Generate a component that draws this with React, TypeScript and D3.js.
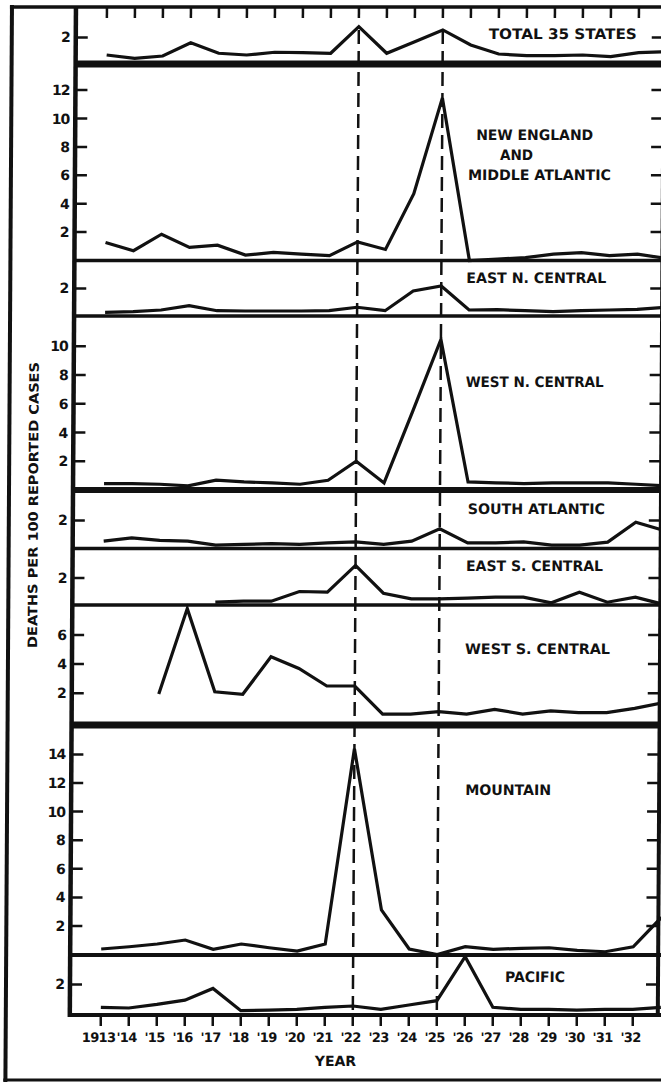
import * as d3 from 'd3'

// years on the x axis (1933 sits at the cropped right edge)
const YEARS = [1913, 1914, 1915, 1916, 1917, 1918, 1919, 1920, 1921, 1922, 1923,
  1924, 1925, 1926, 1927, 1928, 1929, 1930, 1931, 1932, 1933]
const YEAR_LABELS = ['1913', "'14", "'15", "'16", "'17", "'18", "'19", "'20", "'21", "'22",
  "'23", "'24", "'25", "'26", "'27", "'28", "'29", "'30", "'31", "'32"]
const EPIDEMIC_YEARS = [1922, 1925]

// deaths per 100 reported cases
const TOTAL_35 = [0.77, 0.54, 0.7, 1.63, 0.89, 0.77, 0.96, 0.93, 0.89, 2.75, 0.89, 1.7, 2.52, 1.47, 0.84, 0.72, 0.72, 0.77, 0.65, 0.93, 1.0]
const NEW_ENGLAND_MID_ATL = [1.27, 0.69, 1.85, 0.92, 1.08, 0.38, 0.57, 0.45, 0.34, 1.31, 0.78, 4.7, 11.45, 0.0, 0.1, 0.2, 0.45, 0.55, 0.35, 0.45, 0.15]
const EAST_N_CENTRAL = [0.33, 0.37, 0.49, 0.79, 0.44, 0.42, 0.42, 0.42, 0.44, 0.68, 0.44, 1.82, 2.17, 0.49, 0.51, 0.44, 0.37, 0.44, 0.49, 0.54, 0.68]
const WEST_N_CENTRAL = [0.45, 0.45, 0.4, 0.29, 0.68, 0.56, 0.5, 0.4, 0.68, 2.0, 0.49, 5.43, 10.47, 0.56, 0.5, 0.45, 0.5, 0.5, 0.5, 0.4, 0.3]
const SOUTH_ATLANTIC = [0.55, 0.78, 0.6, 0.55, 0.27, 0.32, 0.38, 0.32, 0.43, 0.5, 0.32, 0.55, 1.41, 0.43, 0.43, 0.5, 0.27, 0.27, 0.48, 1.87, 1.3]
const EAST_S_CENTRAL = [null, null, null, null, 0.3, 0.37, 0.37, 1.05, 1.0, 2.87, 0.93, 0.54, 0.54, 0.58, 0.65, 0.65, 0.26, 1.0, 0.3, 0.65, 0.15]
const WEST_S_CENTRAL = [null, null, 1.95, 7.8, 2.1, 1.93, 4.5, 3.7, 2.5, 2.5, 0.58, 0.58, 0.74, 0.58, 0.9, 0.58, 0.8, 0.68, 0.68, 0.97, 1.35]
const MOUNTAIN = [0.39, 0.55, 0.74, 1.02, 0.37, 0.74, 0.48, 0.25, 0.74, 14.4, 3.12, 0.39, 0.0, 0.55, 0.37, 0.44, 0.48, 0.3, 0.2, 0.55, 2.6]
const PACIFIC = [0.4, 0.35, 0.6, 0.9, 1.72, 0.16, 0.2, 0.25, 0.4, 0.49, 0.25, 0.56, 0.86, 3.94, 0.4, 0.25, 0.25, 0.2, 0.25, 0.25, 0.4]

const TICKS_SMALL = [2]
const TICKS_NE = [2, 4, 6, 8, 10, 12]
const TICKS_WNC = [2, 4, 6, 8, 10]
const TICKS_WSC = [2, 4, 6]
const TICKS_MTN = [2, 4, 6, 8, 10, 12, 14]

const NAMES = [
  ['TOTAL 35 STATES'],
  ['NEW ENGLAND', 'AND', 'MIDDLE ATLANTIC'],
  ['EAST N. CENTRAL'],
  ['WEST N. CENTRAL'],
  ['SOUTH ATLANTIC'],
  ['EAST S. CENTRAL'],
  ['WEST S. CENTRAL'],
  ['MOUNTAIN'],
  ['PACIFIC'],
]

// layout (pixels)
const W = 661
const H = 1082
const AXIS_LEFT = 76
const AXIS_RIGHT = 664
const FRAME_RIGHT = 690
const TOP = 7
const BOTTOM = 1015
const SKEW = -0.35 // the scan leans a little

// zero line, pixels per unit, divider below, label boxes [x, centerY, width]
const PANELS = [
  { series: TOTAL_35, ticks: TICKS_SMALL, zero: 66, unit: 14.3, rule: [64, 7], labels: [[489, 33.5, 148]] },
  { series: NEW_ENGLAND_MID_ATL, ticks: TICKS_NE, zero: 260.5, unit: 14.2, rule: [260.5, 3.5], labels: [[477, 135, 117], [501, 155, 33], [469, 175, 143]] },
  { series: EAST_N_CENTRAL, ticks: TICKS_SMALL, zero: 317, unit: 14.3, rule: [316, 3.5], labels: [[468, 278, 140]] },
  { series: WEST_N_CENTRAL, ticks: TICKS_WNC, zero: 490, unit: 14.375, rule: [490, 6], labels: [[468, 382, 138]] },
  { series: SOUTH_ATLANTIC, ticks: TICKS_SMALL, zero: 549, unit: 14.3, rule: [548.5, 3.5], labels: [[471, 509, 137]] },
  { series: EAST_S_CENTRAL, ticks: TICKS_SMALL, zero: 606.5, unit: 14.3, rule: [605, 3.5], labels: [[469.5, 566, 137]] },
  { series: WEST_S_CENTRAL, ticks: TICKS_WSC, zero: 722.5, unit: 14.6, rule: [725, 7], labels: [[469, 649, 145]] },
  { series: MOUNTAIN, ticks: TICKS_MTN, zero: 954.6, unit: 14.3, rule: [955, 4], labels: [[470, 790, 86]] },
  { series: PACIFIC, ticks: TICKS_SMALL, zero: 1013, unit: 14.3, rule: [BOTTOM, 4], labels: [[511, 977, 60]] },
]

const FONT = "'DejaVu Sans', 'Liberation Sans', Arial, sans-serif"

export default function App() {
  const x = d3.scaleLinear().domain([1913, 1932]).range([107, 639])

  return (
    <svg
      width={W}
      height={H}
      style={{ position: 'absolute', left: 0, top: 0 }}
      fontFamily={FONT}
      fontWeight="bold"
    >
      <rect width={W} height={H} fill="#fff" />
      <g transform={`skewX(${SKEW})`} stroke="#111" fill="none">
        {/* outer frame */}
        <line x1={12} x2={12} y1={5} y2={1082} strokeWidth={4} />
        <line x1={10} x2={FRAME_RIGHT} y1={TOP} y2={TOP} strokeWidth={3.5} />
        <line x1={10} x2={FRAME_RIGHT} y1={1080} y2={1080} strokeWidth={3} />

        {/* plot left axis */}
        <line x1={AXIS_LEFT} x2={AXIS_LEFT} y1={TOP} y2={BOTTOM + 2} strokeWidth={4.5} />
        <line x1={AXIS_RIGHT} x2={AXIS_RIGHT} y1={TOP} y2={BOTTOM + 2} strokeWidth={4} />

        {/* year ticks top and bottom */}
        {YEAR_LABELS.map((lab, i) => (
          <g key={lab}>
            <line x1={x(YEARS[i])} x2={x(YEARS[i])} y1={TOP} y2={TOP + 11} strokeWidth={2.5} />
            <line x1={x(YEARS[i])} x2={x(YEARS[i])} y1={BOTTOM} y2={BOTTOM + 11} strokeWidth={2.5} />
            <text
              x={x(YEARS[i]) - 2}
              y={1042}
              fill="#111"
              stroke="none"
              fontSize={13}
              textAnchor="middle"
              letterSpacing={-0.6}
            >
              {lab}
            </text>
          </g>
        ))}

        {/* panels */}
        {PANELS.map((p, i) => {
          const y = d3.scaleLinear().domain([0, 1]).range([p.zero, p.zero - p.unit])
          const line = d3.line<number | null>()
            .defined(v => v != null)
            .x((_, j) => x(YEARS[j]))
            .y(v => y(v as number))
          return (
            <g key={i}>
              <line x1={AXIS_LEFT} x2={FRAME_RIGHT} y1={p.rule[0]} y2={p.rule[0]} strokeWidth={p.rule[1]} />
              <path d={line(p.series) || ''} strokeWidth={3.2} strokeLinejoin="miter" />
              {p.ticks.map(t => (
                <g key={t}>
                  <line x1={AXIS_LEFT} x2={AXIS_LEFT + 12} y1={y(t)} y2={y(t)} strokeWidth={2.5} />
                  <line x1={AXIS_RIGHT - 12} x2={AXIS_RIGHT} y1={y(t)} y2={y(t)} strokeWidth={2.5} />
                  <text
                    x={AXIS_LEFT - 6}
                    y={y(t)}
                    dy="0.36em"
                    textAnchor="end"
                    fontSize={14}
                    fill="#111"
                    stroke="none"
                    letterSpacing={-1}
                  >
                    {t}
                  </text>
                </g>
              ))}
              {NAMES[i].map((name, k) => {
                const [lx, ly, lw] = p.labels[k]
                return (
                  <text
                    key={name}
                    x={lx}
                    y={ly + 5.5}
                    fontSize={14.5}
                    fill="#111"
                    stroke="none"
                    textLength={lw}
                    lengthAdjust="spacingAndGlyphs"
                  >
                    {name}
                  </text>
                )
              })}
            </g>
          )
        })}

        {/* epidemic years */}
        {EPIDEMIC_YEARS.map(yr => (
          <line
            key={yr}
            x1={x(yr)}
            x2={x(yr)}
            y1={30}
            y2={BOTTOM}
            strokeWidth={2.5}
            strokeDasharray="14 7"
          />
        ))}

        {/* axis titles */}
        <text
          transform="translate(41,505) rotate(-90)"
          textAnchor="middle"
          fontSize={13}
          fill="#111"
          stroke="none"
          textLength={286}
          lengthAdjust="spacingAndGlyphs"
        >
          DEATHS PER 100 REPORTED CASES
        </text>
        <text x={342} y={1066} textAnchor="middle" fontSize={14} fill="#111" stroke="none">
          YEAR
        </text>
      </g>
    </svg>
  )
}
